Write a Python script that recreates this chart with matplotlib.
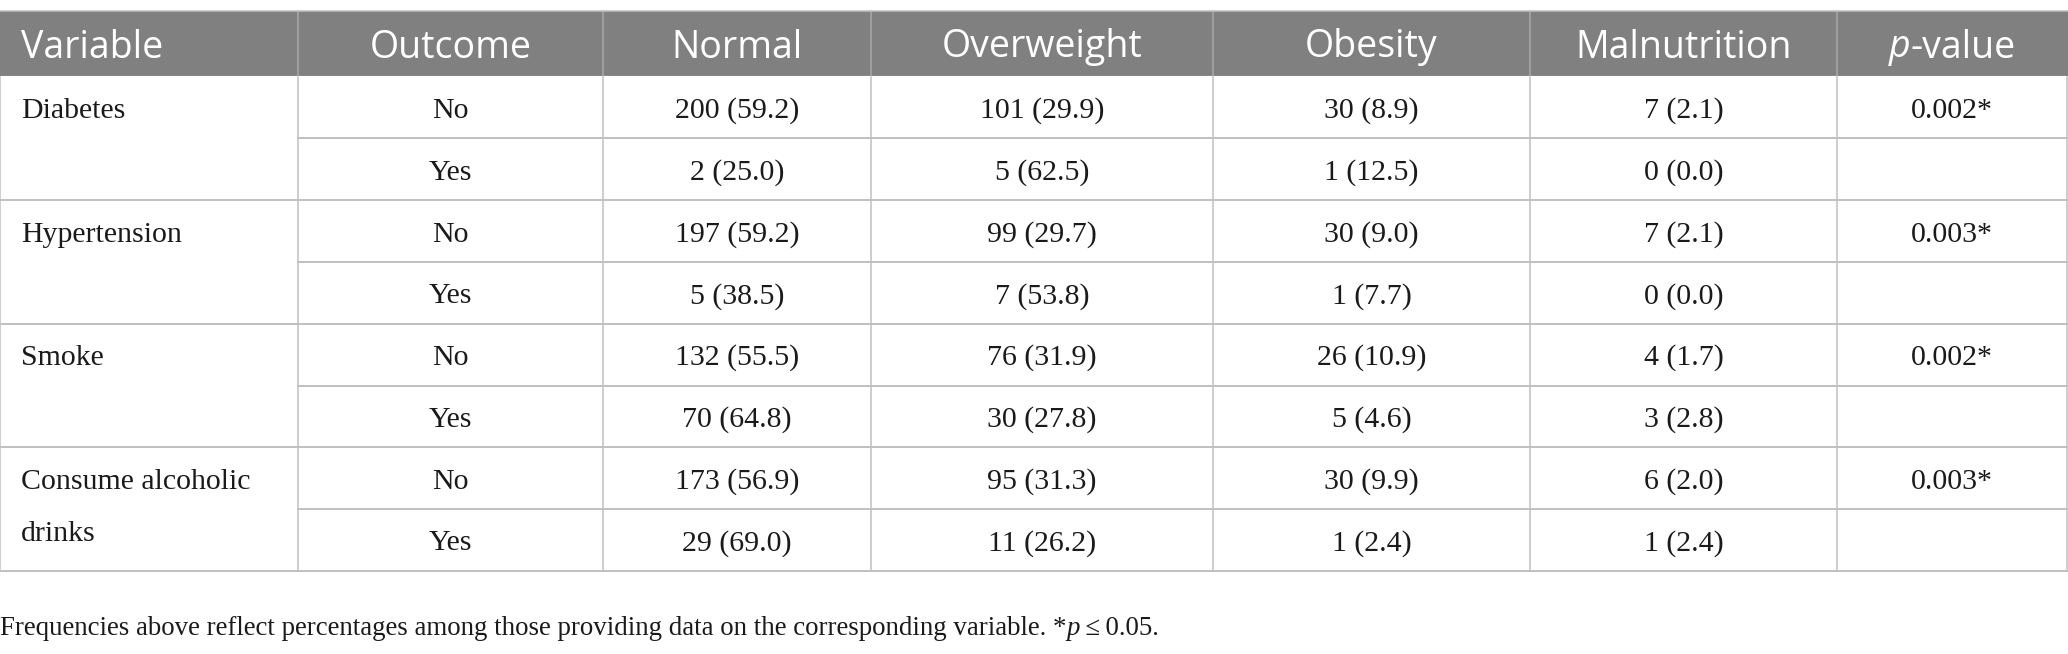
import matplotlib
matplotlib.use("Agg")
import matplotlib.pyplot as plt
from matplotlib.patches import Rectangle

# table contents
headers = ["Variable", "Outcome", "Normal", "Overweight", "Obesity", "Malnutrition", "p-value"]
variables = ["Diabetes", "Hypertension", "Smoke", "Consume alcoholic\ndrinks"]
outcomes = ["No", "Yes"]

normal_n = [200, 2, 197, 5, 132, 70, 173, 29]
normal_pct = [59.2, 25.0, 59.2, 38.5, 55.5, 64.8, 56.9, 69.0]
overweight_n = [101, 5, 99, 7, 76, 30, 95, 11]
overweight_pct = [29.9, 62.5, 29.7, 53.8, 31.9, 27.8, 31.3, 26.2]
obesity_n = [30, 1, 30, 1, 26, 5, 30, 1]
obesity_pct = [8.9, 12.5, 9.0, 7.7, 10.9, 4.6, 9.9, 2.4]
malnutrition_n = [7, 0, 7, 0, 4, 3, 6, 1]
malnutrition_pct = [2.1, 0.0, 2.1, 0.0, 1.7, 2.8, 2.0, 2.4]
p_values = ["0.002*", "0.003*", "0.002*", "0.003*"]

footnote = "Frequencies above reflect percentages among those providing data on the corresponding variable. *"

# layout (pixels)
W, H = 2068, 654
col_edges = [0, 298, 603, 871, 1213, 1530, 1837, 2067]
head_top, head_bot = 10.5, 76.5
row_h = 61.8

header_fill = "#808080"
line_col = "#c0c0c0"
text_col = "#1a1a1a"
serif = ["Liberation Serif", "DejaVu Serif"]
sans = ["Open Sans", "DejaVu Sans"]
body_size = 21.5
head_size = 27
body_drop = 10.5   # baseline below row centre
head_drop = 14

fig = plt.figure(figsize=(W / 100, H / 100), dpi=100)
ax = fig.add_axes([0, 0, 1, 1])
ax.set_xlim(0, W)
ax.set_ylim(H, 0)
ax.axis("off")
renderer = fig.canvas.get_renderer()


def draw_runs(x, y, runs, ha="left", **kw):
    # runs: list of (string, style); placed side by side
    texts = [ax.text(0, y, s, fontstyle=st, va="baseline", ha="left", **kw) for s, st in runs]
    widths = [t.get_window_extent(renderer).width for t in texts]
    total = sum(widths)
    start = x - total / 2 if ha == "center" else x
    for t, w in zip(texts, widths):
        t.set_x(start)
        start += w


# header
ax.add_patch(Rectangle((0, head_top), W, head_bot - head_top, color=header_fill, lw=0))
for xe in col_edges[1:-1]:
    ax.plot([xe, xe], [head_top, head_bot], color="#a8a8a8", lw=1.1)
ax.plot([0, W], [head_top, head_top], color=line_col, lw=1.1)
ax.plot([0, W], [head_bot, head_bot], color="white", lw=1.5)

yb = (head_top + head_bot) / 2 + head_drop
for i, h in enumerate(headers):
    xc = (col_edges[i] + col_edges[i + 1]) / 2
    if i == 0:
        ax.text(21, yb, h, ha="left", va="baseline", color="white", family=sans, fontsize=head_size)
    elif h == "p-value":
        draw_runs(xc, yb, [("p", "italic"), ("-value", "normal")], ha="center",
                  color="white", family=sans, fontsize=head_size)
    else:
        ax.text(xc, yb, h, ha="center", va="baseline", color="white", family=sans, fontsize=head_size)

# body
n_rows = len(variables) * len(outcomes)
row_tops = [head_bot + row_h * k for k in range(n_rows + 1)]
body_bot = row_tops[-1]

columns = [
    (normal_n, normal_pct),
    (overweight_n, overweight_pct),
    (obesity_n, obesity_pct),
    (malnutrition_n, malnutrition_pct),
]

for k in range(1, n_rows + 1):
    x0 = 0 if k % 2 == 0 else col_edges[1]
    ax.plot([x0, W], [row_tops[k], row_tops[k]], color=line_col, lw=1.4)
for xe in col_edges:
    ax.plot([xe, xe], [head_bot, body_bot], color=line_col, lw=1.1)

for g, var in enumerate(variables):
    yc = row_tops[2 * g] + row_h / 2 + body_drop
    for li, line in enumerate(var.split("\n")):
        ax.text(21, yc + li * 52, line, ha="left", va="baseline", color=text_col,
                family=serif, fontsize=body_size)
    pc = (col_edges[6] + col_edges[7]) / 2
    ax.text(pc, yc, p_values[g], ha="center", va="baseline", color=text_col,
            family=serif, fontsize=body_size)

for r in range(n_rows):
    yc = row_tops[r] + row_h / 2 + body_drop
    oc = (col_edges[1] + col_edges[2]) / 2
    ax.text(oc, yc, outcomes[r % 2], ha="center", va="baseline", color=text_col,
            family=serif, fontsize=body_size)
    for c, (n, pct) in enumerate(columns):
        xc = (col_edges[c + 2] + col_edges[c + 3]) / 2
        ax.text(xc, yc, f"{n[r]} ({pct[r]:.1f})", ha="center", va="baseline",
                color=text_col, family=serif, fontsize=body_size)

# footnote
draw_runs(0, 635, [(footnote, "normal"), ("p", "italic"), ("\u2009\u2264\u20090.05.", "normal")],
          color=text_col, family=serif, fontsize=19.35)

fig.savefig("out.png", dpi=100)
